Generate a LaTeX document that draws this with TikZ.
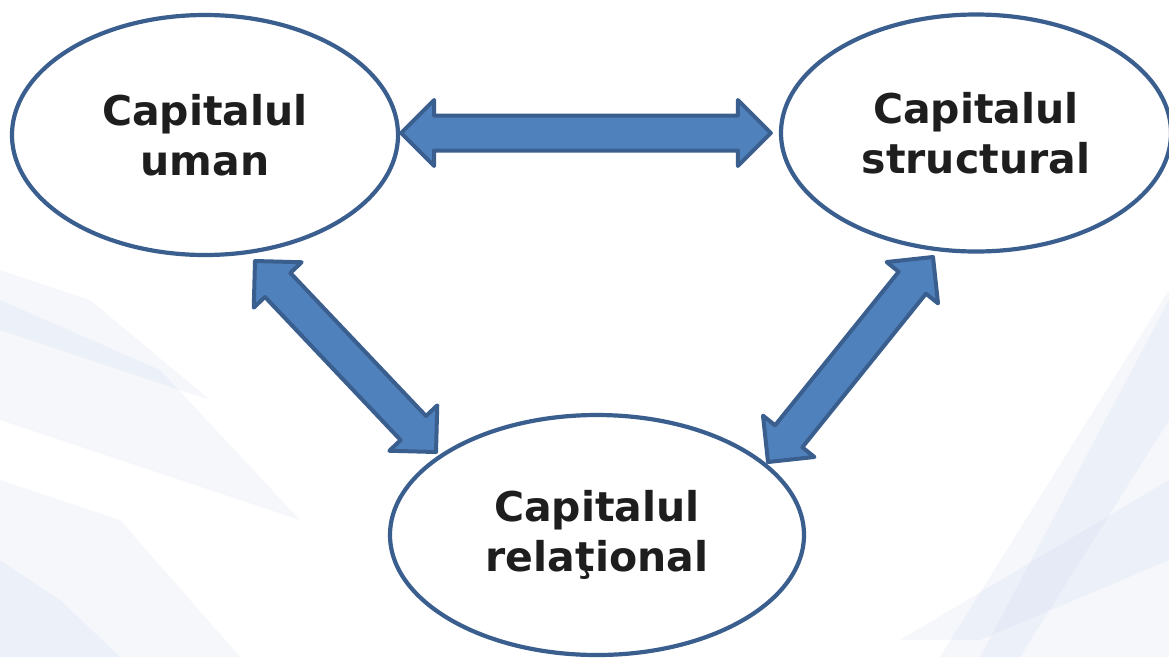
\documentclass[tikz,border=0pt]{standalone}
\usepackage{fontspec}
\setmainfont{DejaVu Sans}
\usetikzlibrary{calc,shapes.geometric}
\definecolor{edgeblue}{HTML}{3A5F8F}
\definecolor{fillblue}{HTML}{4F81BD}
\definecolor{txt}{HTML}{1E1E1E}
\definecolor{bgstripe}{HTML}{C8D4EE}
\tikzset{
  ell/.style={ellipse, draw=edgeblue, line width=4.2pt, fill=white, inner sep=0pt,
    font=\fontsize{41}{50}\selectfont\bfseries, text=txt, align=center},
  blockarrow/.style={fill=fillblue, draw=edgeblue, line width=4pt, line join=round},
  stripe/.style={fill=bgstripe, draw=none, opacity=0.18}
}
\newcommand\dblarrow[2]{%
  \path[blockarrow]
    (#1) -- ($($(#1)!33pt!(#2)$)!33pt!90:(#2)$)
    -- ($($(#1)!33pt!(#2)$)!17.5pt!90:(#2)$)
    -- ($($(#2)!33pt!(#1)$)!17.5pt!-90:(#1)$)
    -- ($($(#2)!33pt!(#1)$)!33pt!-90:(#1)$)
    -- (#2)
    -- ($($(#2)!33pt!(#1)$)!33pt!90:(#1)$)
    -- ($($(#2)!33pt!(#1)$)!17.5pt!90:(#1)$)
    -- ($($(#1)!33pt!(#2)$)!17.5pt!-90:(#2)$)
    -- ($($(#1)!33pt!(#2)$)!33pt!-90:(#2)$)
    -- cycle;}
\begin{document}
\begin{tikzpicture}[x=1pt,y=-1pt]
\useasboundingbox (0,0) rectangle (1169,657);
\fill[white] (0,0) rectangle (1169,657);
% faint background stripes
\fill[stripe] (0,270) -- (90,300) -- (210,400) -- (0,330) -- cycle;
\fill[stripe] (0,300) -- (160,370) -- (300,520) -- (0,420) -- cycle;
\fill[stripe] (0,480) -- (120,520) -- (240,657) -- (0,657) -- cycle;
\fill[stripe] (0,560) -- (60,600) -- (120,657) -- (0,657) -- cycle;
\fill[stripe] (1169,290) -- (1169,657) -- (940,657) -- cycle;
\fill[stripe] (1169,480) -- (1169,560) -- (980,640) -- (900,640) -- cycle;
\fill[stripe] (1169,300) -- (1169,420) -- (1020,657) -- (980,657) -- cycle;
% ellipses
\node[ell, minimum width=386pt, minimum height=240pt] (u) at (205,135) {Capitalul\\uman};
\node[ell, minimum width=390pt, minimum height=237pt] (s) at (976,133) {Capitalul\\structural};
\node[ell, minimum width=414pt, minimum height=240pt] (r) at (597,535) {Capitalul\\relaţional};
% arrow end points
\coordinate (us1) at ($(u.east)+(1,-2)$);
\coordinate (us2) at ($(s.west)+(-8,0)$);
\coordinate (ur1) at (255,261);
\coordinate (ur2) at (436,452);
\coordinate (sr1) at (933,257);
\coordinate (sr2) at (768,462);
\dblarrow{us1}{us2}
\dblarrow{ur1}{ur2}
\dblarrow{sr1}{sr2}
\end{tikzpicture}
\end{document}
